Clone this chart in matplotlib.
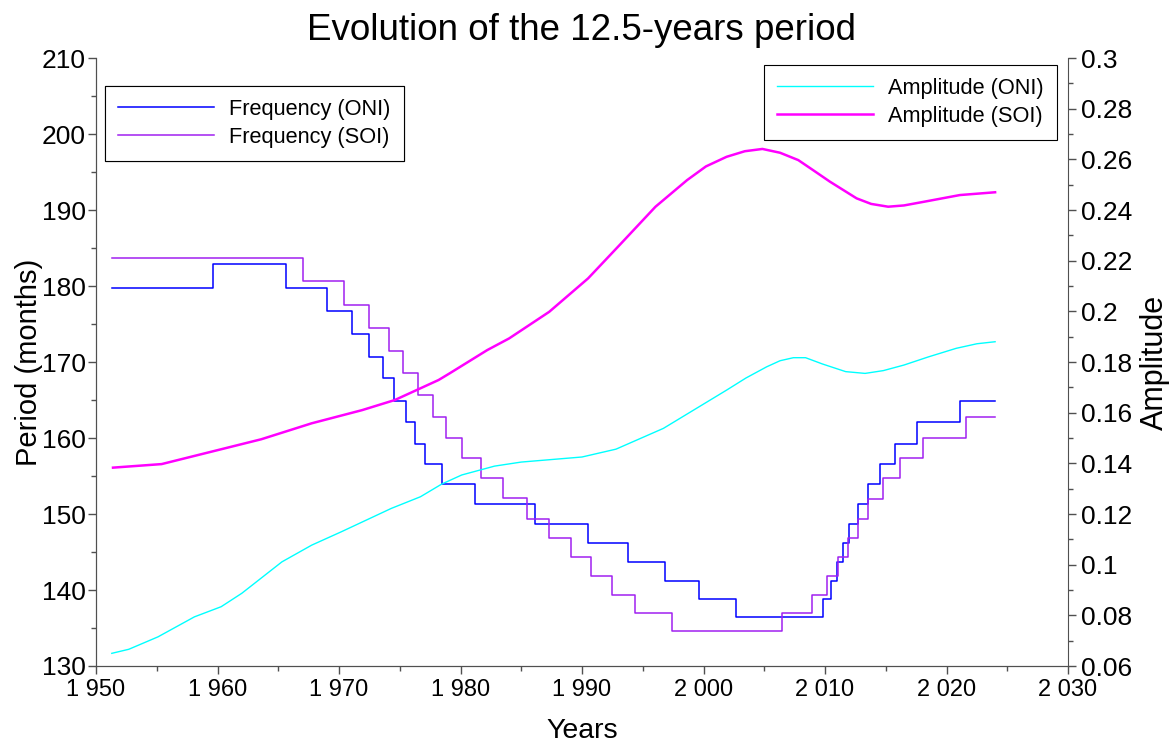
import matplotlib
matplotlib.use("Agg")
import matplotlib.pyplot as plt
from matplotlib.ticker import MultipleLocator, FuncFormatter

plt.rcParams['font.family'] = ['Liberation Sans', 'DejaVu Sans']

# Period steps (start year of each step, period in months)
oni_years = [1951.3, 1959.6, 1965.6, 1969.0, 1971.07, 1972.5, 1973.6, 1974.55,
             1975.5, 1976.25, 1977.1, 1978.5, 1981.2, 1986.1, 1990.5, 1993.8,
             1996.8, 1999.65, 2002.7, 2009.86, 2010.5, 2011.0, 2011.45, 2012.0,
             2012.7, 2013.5, 2014.5, 2015.8, 2017.6, 2021.1]
oni_period = [179.78, 182.86, 179.78, 176.71, 173.68, 170.62, 167.86, 164.91,
              162.07, 159.21, 156.62, 153.95, 151.32, 148.64, 146.18, 143.64,
              141.18, 138.78, 136.41, 138.78, 141.18, 143.64, 146.18, 148.64,
              151.32, 153.95, 156.62, 159.21, 162.07, 164.91]

soi_years = [1951.3, 1967.0, 1970.4, 1972.5, 1974.1, 1975.3, 1976.5, 1977.7,
             1978.8, 1980.15, 1981.7, 1983.5, 1985.45, 1987.3, 1989.1, 1990.7,
             1992.5, 1994.4, 1997.4, 2006.5, 2008.9, 2010.2, 2011.1, 2011.9,
             2012.7, 2013.55, 2014.8, 2016.2, 2018.1, 2021.6]
soi_period = [183.72, 180.6, 177.54, 174.43, 171.49, 168.51, 165.66, 162.8,
              159.96, 157.33, 154.7, 152.1, 149.38, 146.84, 144.34, 141.84,
              139.34, 136.97, 134.6, 136.97, 139.34, 141.84, 144.34, 146.84,
              149.38, 152.0, 154.7, 157.33, 159.96, 162.76]
end_year = 2024.0

# Amplitude curves
amp_oni_years = [1951.3, 1952.7, 1955.1, 1958.1, 1960.3, 1962.0, 1965.3, 1967.75,
                 1970.2, 1974.3, 1976.7, 1978.45, 1980.1, 1982.8, 1985.0, 1990.0,
                 1992.8, 1996.7, 2001.9, 2003.5, 2005.2, 2006.3, 2007.4, 2008.4,
                 2009.8, 2011.7, 2013.3, 2014.8, 2016.5, 2018.5, 2020.8, 2022.5,
                 2024.0]
amp_oni = [0.065, 0.0666, 0.0715, 0.0794, 0.0834, 0.0887, 0.1011, 0.1077,
           0.113, 0.1222, 0.1268, 0.1318, 0.1354, 0.1389, 0.1405, 0.1425,
           0.1456, 0.1538, 0.1689, 0.1737, 0.1781, 0.1805, 0.1817, 0.1817,
           0.1792, 0.1762, 0.1755, 0.1766, 0.1788, 0.182, 0.1854, 0.1872,
           0.188]

amp_soi_years = [1951.4, 1955.4, 1959.5, 1963.6, 1967.75, 1971.9, 1974.6, 1978.2,
                 1979.1, 1982.2, 1984.0, 1987.3, 1990.5, 1993.1, 1996.05, 1998.65,
                 2000.2, 2001.9, 2003.4, 2004.85, 2006.3, 2007.8, 2009.0, 2010.4,
                 2012.6, 2013.8, 2015.2, 2016.5, 2018.2, 2021.1, 2024.0]
amp_soi = [0.1383, 0.1397, 0.1446, 0.1495, 0.1558, 0.161, 0.165, 0.1729,
           0.1755, 0.1847, 0.1893, 0.1998, 0.213, 0.2262, 0.2413, 0.2518,
           0.2572, 0.261, 0.2632, 0.2641, 0.2626, 0.2597, 0.2558, 0.2512,
           0.2446, 0.2424, 0.2413, 0.2418, 0.2433, 0.2459, 0.247]

fig = plt.figure(figsize=(11.75, 7.43), dpi=100)
ax = fig.add_axes([96 / 1175, 1 - 666 / 743, (1068 - 96) / 1175, (666 - 58) / 743])
ax2 = ax.twinx()

l1, = ax.step(oni_years + [end_year], oni_period + [oni_period[-1]], where='post',
              color='#0000ff', lw=1.1, label='Frequency (ONI)')
l2, = ax.step(soi_years + [end_year], soi_period + [soi_period[-1]], where='post',
              color='#a020f0', lw=1.1, label='Frequency (SOI)')
l3, = ax2.plot(amp_oni_years, amp_oni, color='#00ffff', lw=1.0, label='Amplitude (ONI)')
l4, = ax2.plot(amp_soi_years, amp_soi, color='#ff00ff', lw=1.8, label='Amplitude (SOI)')

ax.set_xlim(1950, 2030)
ax.set_ylim(130, 210)
ax2.set_ylim(0.06, 0.3)

ax.xaxis.set_major_locator(MultipleLocator(10))
ax.xaxis.set_minor_locator(MultipleLocator(5))
ax.xaxis.set_major_formatter(FuncFormatter(lambda v, p: f"{int(round(v)):,}".replace(",", " ")))
ax.yaxis.set_major_locator(MultipleLocator(10))
ax.yaxis.set_minor_locator(MultipleLocator(5))
ax2.yaxis.set_major_locator(MultipleLocator(0.02))
ax2.yaxis.set_minor_locator(MultipleLocator(0.01))
ax2.yaxis.set_major_formatter(FuncFormatter(lambda v, p: f"{v:g}"))

for a in (ax, ax2):
    a.spines['top'].set_visible(False)
    for s in a.spines.values():
        s.set_color('#505050')
    a.tick_params(which='major', length=6, width=1, color='#505050', labelsize=19)
    a.tick_params(which='minor', length=3.5, width=1, color='#505050')
ax.spines['right'].set_visible(False)
ax.tick_params(axis='x', labelsize=17)
ax.tick_params(axis='y', which='major', pad=1.5)

ax.set_xlabel('Years', fontsize=20.5, labelpad=12)
ax.set_ylabel('Period (months)', fontsize=21, labelpad=-1)
ax2.set_ylabel('Amplitude', fontsize=22, labelpad=5)
ax.set_title('Evolution of the 12.5-years period', fontsize=26.5, pad=13)

leg_kw = dict(bbox_transform=fig.transFigure, fontsize=15.7, frameon=True, fancybox=False,
              edgecolor='black', framealpha=1, handlelength=4.4, handletextpad=0.7,
              borderaxespad=0, borderpad=0.6, labelspacing=0.3)
leg1 = ax.legend(handles=[l1, l2], loc='upper left',
                 bbox_to_anchor=(105 / 1175, 1 - 86 / 743), **leg_kw)
leg1.get_frame().set_linewidth(0.8)
ax.add_artist(leg1)
leg2 = ax2.legend(handles=[l3, l4], loc='upper right',
                  bbox_to_anchor=(1057 / 1175, 1 - 65 / 743), **leg_kw)
leg2.get_frame().set_linewidth(0.8)

fig.savefig('out.png', dpi=100)
